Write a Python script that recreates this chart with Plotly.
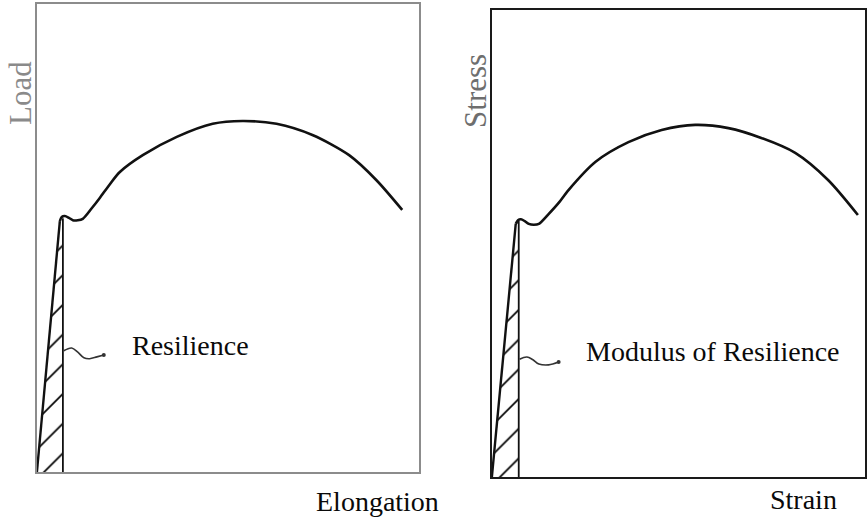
import plotly.graph_objects as go

# ---- Load / Elongation curve (left panel, axis units 0-100) ----
load_rise_x = [0.0, 6.0]
load_rise_y = [0.0, 53.6]
load_curve_x = [6.0, 6.5, 7.3, 8.4, 9.4, 10.7, 12.0, 14.4, 16.4, 19.1, 21.7, 27.7,
                36.6, 46.0, 53.8, 62.7, 72.1, 81.7, 88.8, 95.6]
load_curve_y = [53.6, 54.5, 54.7, 54.3, 53.8, 53.8, 54.1, 56.4, 58.5, 61.5, 64.1, 67.7,
                71.6, 74.4, 75.0, 74.4, 72.0, 67.7, 62.4, 56.0]
load_limit_x = 6.8          # elastic limit elongation
load_limit_y = 54.2
load_leader_x = [7.0, 9.1, 10.7, 12.3, 13.8, 15.7, 17.5]
load_leader_y = [25.9, 26.5, 25.6, 24.4, 24.2, 24.6, 25.0]

# ---- Stress / Strain curve (right panel, axis units 0-100) ----
stress_rise_x = [0.0, 6.4]
stress_rise_y = [0.0, 54.2]
stress_curve_x = [6.4, 7.0, 7.8, 8.8, 9.9, 11.2, 12.6, 15.2, 17.9, 20.6, 27.8, 36.6,
                  45.5, 54.5, 63.4, 72.2, 81.3, 90.1, 98.1]
stress_curve_y = [54.2, 55.0, 55.2, 54.8, 54.2, 54.0, 54.2, 56.3, 58.7, 61.5, 67.5, 71.7,
                  74.3, 75.4, 74.7, 72.6, 69.4, 63.6, 56.1]
stress_limit_x = 7.2
stress_limit_y = 54.8
stress_leader_x = [7.4, 9.4, 11.0, 12.6, 15.2, 17.9]
stress_leader_y = [25.2, 25.7, 25.1, 24.2, 24.0, 24.6]

labels = {
    "left_x": "Elongation", "left_y": "Load", "left_note": "Resilience",
    "right_x": "Strain", "right_y": "Stress", "right_note": "Modulus of Resilience",
}

W, H = 867, 528
SERIF = "Liberation Serif, Times New Roman, serif"
INK = "#111111"

fig = go.Figure()


def add_panel(xa, ya, rise_x, rise_y, curve_x, curve_y, lim_x, lim_y, lead_x, lead_y):
    # hatched elastic-energy area under the linear part
    fig.add_trace(go.Scatter(
        x=[rise_x[0], rise_x[1], lim_x, lim_x, rise_x[0]],
        y=[rise_y[0], rise_y[1], lim_y, 0.0, rise_y[0]],
        xaxis=xa, yaxis=ya, mode="lines", fill="toself",
        fillcolor="white",
        fillpattern=dict(shape="/", size=21, solidity=0.08,
                         fgcolor="#000000", bgcolor="white", fillmode="replace"),
        line=dict(width=0), hoverinfo="skip", showlegend=False))
    # vertical line at the elastic limit
    fig.add_trace(go.Scatter(
        x=[lim_x, lim_x], y=[0.0, lim_y], xaxis=xa, yaxis=ya, mode="lines",
        line=dict(color=INK, width=1.8), hoverinfo="skip", showlegend=False))
    # linear elastic rise
    fig.add_trace(go.Scatter(
        x=rise_x, y=rise_y, xaxis=xa, yaxis=ya, mode="lines",
        line=dict(color=INK, width=2.4), hoverinfo="skip", showlegend=False))
    # yield bump and plastic dome
    fig.add_trace(go.Scatter(
        x=curve_x, y=curve_y, xaxis=xa, yaxis=ya, mode="lines",
        line=dict(color=INK, width=2.6, shape="spline", smoothing=0.8),
        hoverinfo="skip", showlegend=False))
    # wavy leader to the label
    fig.add_trace(go.Scatter(
        x=lead_x, y=lead_y, xaxis=xa, yaxis=ya, mode="lines",
        line=dict(color="#333333", width=1.6, shape="spline", smoothing=1.0),
        hoverinfo="skip", showlegend=False))
    fig.add_trace(go.Scatter(
        x=[lead_x[-1]], y=[lead_y[-1]], xaxis=xa, yaxis=ya, mode="markers",
        marker=dict(color="#333333", size=4), hoverinfo="skip", showlegend=False))


add_panel("x", "y", load_rise_x, load_rise_y, load_curve_x, load_curve_y,
          load_limit_x, load_limit_y, load_leader_x, load_leader_y)
add_panel("x2", "y2", stress_rise_x, stress_rise_y, stress_curve_x, stress_curve_y,
          stress_limit_x, stress_limit_y, stress_leader_x, stress_leader_y)


def frame_axis(domain, color):
    return dict(domain=domain, range=[0, 100], showgrid=False, zeroline=False,
                showticklabels=False, ticks="", showline=True, mirror=True,
                linecolor=color, linewidth=2, fixedrange=True)


fig.update_layout(
    width=W, height=H,
    margin=dict(l=0, r=0, t=0, b=0),
    paper_bgcolor="white", plot_bgcolor="white",
    showlegend=False,
    xaxis=frame_axis([37 / W, 420 / W], "#8c8c8c"),
    yaxis=frame_axis([1 - 472 / H, 1 - 4 / H], "#8c8c8c"),
    xaxis2=dict(frame_axis([493 / W, 1.0], "#1a1a1a"), anchor="y2"),
    yaxis2=dict(frame_axis([1 - 477 / H, 1 - 10 / H], "#1a1a1a"), anchor="x2"),
)
fig.layout.xaxis.anchor = "y"
fig.layout.yaxis.anchor = "x"

annotations = [
    dict(text=labels["left_note"], x=24.3, y=27.1, xref="x", yref="y",
         xanchor="left", yanchor="middle", font=dict(size=28, color="#0a0a0a")),
    dict(text=labels["right_note"], x=24.6, y=26.8, xref="x2", yref="y2",
         xanchor="left", yanchor="middle", font=dict(size=28, color="#0a0a0a")),
    dict(text=labels["left_x"], x=378 / W, y=1 - 501 / H, xref="paper", yref="paper",
         xanchor="center", yanchor="middle", font=dict(size=28, color="#0a0a0a")),
    dict(text=labels["right_x"], x=805 / W, y=1 - 499 / H, xref="paper", yref="paper",
         xanchor="center", yanchor="middle", font=dict(size=28, color="#0a0a0a")),
    dict(text=labels["left_y"], x=20 / W, y=1 - 93 / H, xref="paper", yref="paper",
         xanchor="center", yanchor="middle", textangle=-90,
         font=dict(size=31, color="#8a8a8a")),
    dict(text=labels["right_y"], x=476 / W, y=1 - 91 / H, xref="paper", yref="paper",
         xanchor="center", yanchor="middle", textangle=-90,
         font=dict(size=31, color="#6e6e6e")),
]
for a in annotations:
    a["showarrow"] = False
    a["font"]["family"] = SERIF
fig.update_layout(annotations=annotations)

fig.write_html("out.html", config={"displayModeBar": False})
